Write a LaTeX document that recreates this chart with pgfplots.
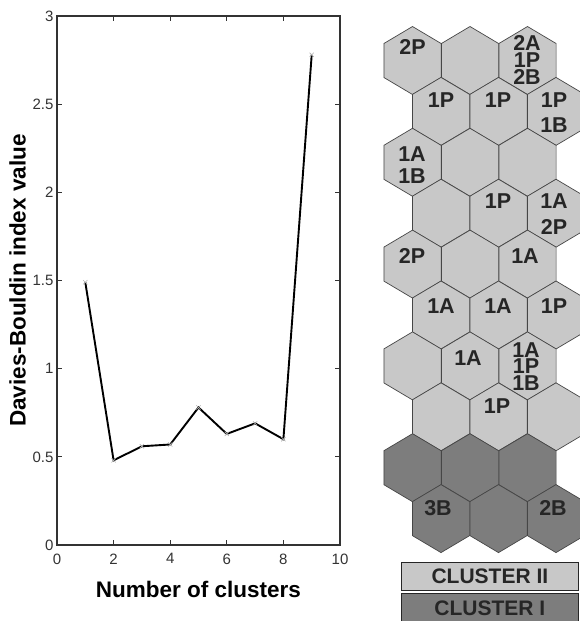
\documentclass[border=0pt]{standalone}
\usepackage{pgfplots}
\usepackage{pgfplotstable}
\pgfplotsset{compat=1.18}
\usepackage{fontspec}
\setmainfont{Liberation Sans}
\definecolor{hexlight}{RGB}{200,200,200}
\definecolor{hexdark}{RGB}{125,125,125}
\definecolor{hexline}{RGB}{70,70,70}
\pgfdeclareplotmark{hexagon}{%
  \pgfpathmoveto{\pgfqpoint{0pt}{34pt}}%
  \pgfpathlineto{\pgfqpoint{28.6pt}{17pt}}%
  \pgfpathlineto{\pgfqpoint{28.6pt}{-17pt}}%
  \pgfpathlineto{\pgfqpoint{0pt}{-34pt}}%
  \pgfpathlineto{\pgfqpoint{-28.6pt}{-17pt}}%
  \pgfpathlineto{\pgfqpoint{-28.6pt}{17pt}}%
  \pgfpathclose
  \pgfusepathqfillstroke}
\pgfplotstableread{
x y
1 1.49
2 0.48
3 0.56
4 0.57
5 0.78
6 0.63
7 0.69
8 0.60
9 2.78
}\dbdata
\pgfplotstableread{
x y
412.5 60.5
470 60.5
527.5 60.5
441 111.4
498.5 111.4
556 111.4
412.5 162.3
470 162.3
527.5 162.3
441 213.2
498.5 213.2
556 213.2
412.5 264.1
470 264.1
527.5 264.1
441 315.0
498.5 315.0
556 315.0
412.5 365.9
470 365.9
527.5 365.9
441 416.8
498.5 416.8
556 416.8
}\lighthex
\pgfplotstableread{
x y
412.5 467.7
470 467.7
527.5 467.7
441 518.6
498.5 518.6
556 518.6
}\darkhex
\pgfplotstableread{
x y lab
412.5 47 2P
527 43 2A
527 60 1P
527 77 2B
441 100 1P
498 100 1P
554 100 1P
554 125 1B
412 154 1A
412 176 1B
498 201 1P
554 201 1A
554 227 2P
412 256 2P
525 256 1A
441 306 1A
498 306 1A
554 306 1P
468 358 1A
526 350 1A
526 366 1P
526 383 1B
497 406 1P
438 508 3B
553 508 2B
}\hexlabels
\begin{document}
\begin{tikzpicture}
\path[use as bounding box] (0pt,-621pt) rectangle (580pt,0pt);
\begin{axis}[
  at={(57pt,-545pt)}, anchor=south west,
  scale only axis, width=283pt, height=529pt,
  xmin=0, xmax=10, ymin=0, ymax=3,
  xtick={0,2,...,10}, ytick={0,0.5,...,3},
  tick align=inside, major tick length=5pt,
  axis line style={line width=1.1pt, black!80},
  every tick/.style={line width=0.8pt, black!80},
  /pgf/number format/assume math mode=true,
  ticklabel style={font=\fontsize{15}{15}\selectfont, text=black!80},
  xticklabel style={yshift=-5pt},
  xlabel={Number of clusters},
  xlabel style={yshift=-10pt},
  ylabel={Davies-Bouldin index value},
  label style={font=\bfseries\fontsize{22.5}{22.5}\selectfont},
]
\addplot[black, line width=1.9pt, mark=x, mark size=3pt,
  mark options={gray!60, line width=0.6pt}] table {\dbdata};
\end{axis}
\begin{axis}[
  at={(370pt,-621pt)}, anchor=south west,
  scale only axis, width=210pt, height=621pt,
  xmin=370, xmax=580, ymin=0, ymax=621, y dir=reverse,
  hide axis, clip=false,
]
\addplot[only marks, mark=hexagon, mark options={fill=hexlight, draw=hexline, line width=0.7pt}] table {\lighthex};
\addplot[only marks, mark=hexagon, mark options={fill=hexdark, draw=hexline, line width=0.7pt}] table {\darkhex};
\end{axis}
\begin{axis}[
  at={(370pt,-621pt)}, anchor=south west,
  scale only axis, width=210pt, height=621pt,
  xmin=370, xmax=580, ymin=0, ymax=621, y dir=reverse,
  hide axis, clip=false,
]
\addplot[only marks, mark=*, mark size=0pt, mark options={draw=none, fill=none},
  nodes near coords, point meta=explicit symbolic,
  nodes near coords style={anchor=center, inner sep=0pt, yshift=0pt,
    font=\bfseries\fontsize{21.5}{21.5}\selectfont, text=black!85}]
  table[meta=lab] {\hexlabels};
\end{axis}
\node[draw=black!85, line width=0.8pt, fill=hexlight, minimum width=177pt, minimum height=28pt, anchor=north west, inner sep=0pt,
  font=\bfseries\fontsize{21}{21}\selectfont, text=black!85] at (401pt,-562pt) {CLUSTER II};
\node[draw=black!85, line width=0.8pt, fill=hexdark, minimum width=177pt, minimum height=30pt, anchor=north west, inner sep=0pt,
  font=\bfseries\fontsize{21}{21}\selectfont, text=black!85] at (401pt,-593pt) {CLUSTER I};
\end{tikzpicture}
\end{document}
